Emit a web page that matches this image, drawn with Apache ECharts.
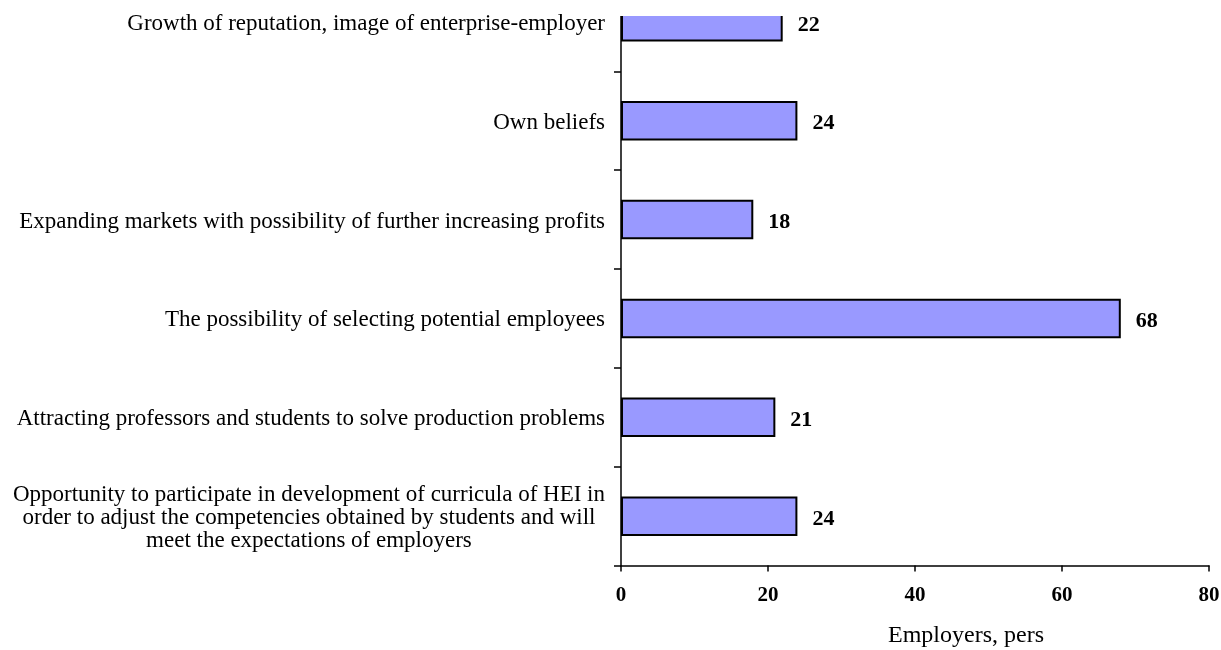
<!DOCTYPE html>
<html>
<head>
<meta charset="utf-8">
<script src="https://cdn.jsdelivr.net/npm/echarts@6/dist/echarts.min.js"></script>
<style>html,body{margin:0;padding:0;background:#fff;}#c{width:1221px;height:650px;}</style>
</head>
<body>
<div id="c"></div>
<script>
const categories = [
  "Growth of reputation, image of enterprise-employer",
  "Own beliefs",
  "Expanding markets with possibility of further increasing profits",
  "The possibility of selecting potential employees",
  "Attracting professors and students to solve production problems",
  "Opportunity to participate in development of curricula of HEI in\norder to adjust the competencies obtained by students and will\nmeet the expectations of employers"
];
const values = [22, 24, 18, 68, 21, 24];
const xTicks = { min: 0, max: 80, interval: 20 };
const axisName = "Employers, pers";

const chart = echarts.init(document.getElementById('c'));
chart.setOption({
  animation: false,
  backgroundColor: '#fff',
  grid: { left: 621, right: 12, top: -27.6, bottom: 84.4, containLabel: false, outerBoundsMode: 'none' },
  xAxis: {
    type: 'value', min: xTicks.min, max: xTicks.max, interval: xTicks.interval,
    splitLine: { show: false },
    axisLine: { show: true, lineStyle: { color: '#000', width: 1.5 } },
    axisTick: { show: true, length: 6, lineStyle: { color: '#000', width: 1.5 } },
    axisLabel: { margin: 19, fontFamily: 'Liberation Serif', fontWeight: 'bold', fontSize: 21, color: '#000' }
  },
  yAxis: {
    type: 'category', data: categories, inverse: true,
    axisLine: { show: true, lineStyle: { color: '#000', width: 1.5 } },
    axisTick: { show: true, length: 7, lineStyle: { color: '#000', width: 1.5 } },
    axisLabel: {
      margin: 16, color: '#000', fontFamily: 'Liberation Serif', fontSize: 23,
      formatter: function (v) { return v.split('\n').map(function (l) { return '{c|' + l + '}'; }).join('\n'); },
      rich: { c: { align: 'center', fontFamily: 'Liberation Serif', fontSize: 23, lineHeight: 23, color: '#000', padding: [4, 0, 0, 0] } }
    }
  },
  series: [{
    type: 'bar', data: values, barCategoryGap: '60%',
    itemStyle: { color: '#9999FF', borderColor: '#000', borderWidth: 2 },
    label: { show: true, position: 'right', distance: 15, offset: [0, 3], fontFamily: 'Liberation Serif', fontWeight: 'bold', fontSize: 22, color: '#000' }
  }],
  graphic: [
    { type: 'rect', left: 605, top: 0, z: 100, shape: { width: 185, height: 16 }, style: { fill: '#fff' } },
    { type: 'text', left: 888, top: 624, style: { text: axisName, font: '24px "Liberation Serif"', fill: '#000' } }
  ]
});
</script>
</body>
</html>
